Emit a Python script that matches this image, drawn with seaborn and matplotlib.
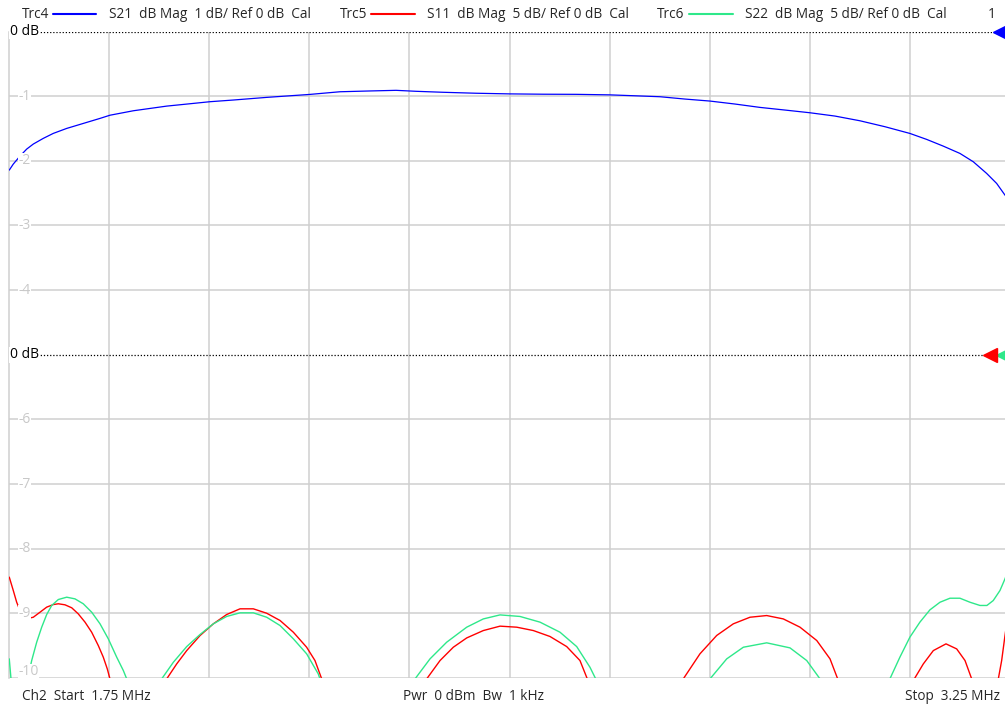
import matplotlib
matplotlib.use("Agg")
import matplotlib.pyplot as plt
import seaborn as sns
import pandas as pd

# --- Data (frequency in MHz, magnitude in dB) ---
START_MHZ = 1.75
STOP_MHZ = 3.25

s21_freq = [1.7504, 1.7564, 1.7665, 1.7765, 1.7864, 1.8014, 1.8164, 1.8365, 1.8613, 1.8864,
            1.9013, 1.9363, 1.9613, 1.9863, 2.0112, 2.0512, 2.0861, 2.1362, 2.2010, 2.2460,
            2.290, 2.330, 2.360, 2.400, 2.450, 2.500, 2.550, 2.600, 2.650, 2.690,
            2.7255, 2.7630, 2.8004, 2.8379, 2.8753, 2.9128, 2.9503, 2.9877, 3.0252, 3.0627,
            3.1001, 3.1251, 3.1500, 3.1750, 3.1950, 3.2150, 3.2300, 3.2425, 3.2500]
s21_db = [-2.144, -2.051, -1.927, -1.819, -1.741, -1.653, -1.576, -1.499, -1.422, -1.344,
          -1.295, -1.226, -1.190, -1.154, -1.128, -1.086, -1.060, -1.019, -0.973, -0.932,
          -0.920, -0.910, -0.925, -0.940, -0.955, -0.965, -0.970, -0.972, -0.980, -0.995,
          -1.009, -1.045, -1.076, -1.122, -1.174, -1.215, -1.257, -1.308, -1.381, -1.473,
          -1.577, -1.669, -1.773, -1.886, -2.015, -2.195, -2.350, -2.531, -2.620]

s11_freq = [1.7504, 1.7564, 1.7615, 1.7665, 1.7740, 1.7804, 1.7864, 1.7965, 1.8065, 1.8164,
            1.8239, 1.8339, 1.8440, 1.8538, 1.8639, 1.8739, 1.8838, 1.8913, 1.8973, 1.9013,
            1.9250, 1.9450, 1.9650,
            1.9863, 2.0013, 2.0163, 2.0362, 2.0562, 2.0762, 2.0962, 2.1161, 2.1361, 2.1561,
            2.1761, 2.1960, 2.2085, 2.2186,
            2.2900,
            2.3759, 2.3959, 2.4158, 2.4359, 2.4608, 2.4858, 2.5108, 2.5357, 2.5607, 2.5857,
            2.6056, 2.6166,
            2.6900,
            2.7604, 2.7854, 2.8105, 2.8354, 2.8604, 2.8854, 2.9103, 2.9353, 2.9604, 2.9803,
            2.9918,
            3.0500,
            3.1066, 3.1201, 3.1351, 3.1541, 3.1701, 3.1826, 3.1926,
            3.2120,
            3.2325, 3.2375, 3.2425, 3.2500]
s11_db = [-17.20, -18.23, -19.14, -19.78, -20.24, -20.37, -20.30, -19.91, -19.52, -19.32,
          -19.26, -19.34, -19.57, -20.04, -20.68, -21.46, -22.49, -23.39, -24.30, -25.07,
          -28.5, -32.0, -28.5,
          -25.07, -23.91, -22.88, -21.72, -20.81, -20.09, -19.65, -19.65, -19.99, -20.55,
          -21.46, -22.62, -23.65, -25.07,
          -33.0,
          -25.07, -23.65, -22.62, -21.90, -21.33, -20.99, -21.07, -21.33, -21.79, -22.57,
          -23.65, -25.07,
          -33.0,
          -25.07, -23.13, -21.71, -20.81, -20.30, -20.17, -20.43, -21.07, -22.10, -23.52,
          -25.07,
          -30.0,
          -25.07, -23.91, -22.88, -22.36, -22.75, -23.65, -25.07,
          -28.0,
          -25.07, -23.65, -21.72, -19.0]

s22_freq = [1.7504, 1.7530, 1.7650, 1.7780, 1.7840, 1.7915, 1.7990, 1.8065, 1.8140, 1.8239,
            1.8365, 1.8489, 1.8613, 1.8739, 1.8864, 1.8988, 1.9114, 1.9213, 1.9264,
            1.9500,
            1.9788, 1.9963, 2.0163, 2.0362, 2.0562, 2.0762, 2.0962, 2.1161, 2.1361, 2.1561,
            2.1761, 2.1960, 2.2134, 2.2160,
            2.2900,
            2.3584, 2.3809, 2.4059, 2.4359, 2.4608, 2.4858, 2.5157, 2.5457, 2.5757, 2.6007,
            2.6206, 2.6292,
            2.7150,
            2.8004, 2.8255, 2.8504, 2.8854, 2.9203, 2.9454, 2.9653,
            3.0200,
            3.0700, 3.0850, 3.1000, 3.1150, 3.1300, 3.1451, 3.1600, 3.1750, 3.1900, 3.2050,
            3.2154, 3.2249, 3.2350, 3.2425, 3.2500]
s22_db = [-23.52, -25.07, -28.0, -25.07, -23.65, -22.23, -21.07, -20.09, -19.39, -18.93,
          -18.75, -18.88, -19.26, -19.91, -20.81, -21.97, -23.39, -24.42, -25.07,
          -32.0,
          -25.07, -23.78, -22.57, -21.64, -20.81, -20.24, -19.96, -19.96, -20.30, -20.94,
          -21.97, -23.13, -24.68, -25.07,
          -33.0,
          -25.07, -23.52, -22.23, -21.07, -20.43, -20.12, -20.24, -20.68, -21.46, -22.57,
          -24.17, -25.07,
          -32.0,
          -25.07, -23.52, -22.62, -22.28, -22.67, -23.65, -25.07,
          -30.0,
          -25.07, -23.39, -21.84, -20.68, -19.73, -19.14, -18.83, -18.83, -19.14, -19.39,
          -19.39, -19.01, -18.23, -17.33, -16.3]

div_labels = ["-1", "-2", "-3", "-4", "-6", "-7", "-8", "-9", "-10"]
div_values = [-1, -2, -3, -4, -6, -7, -8, -9, -10]

C_BLUE = "#0000ff"
C_RED = "#ff0000"
C_GREEN = "#2ee88a"

# Screen grid: 10 divisions. Trc4 uses 1 dB/div with ref at top line,
# Trc5/Trc6 use 5 dB/div with ref at the 5th division.
df21 = pd.DataFrame({"f": s21_freq, "div": [v / 1.0 for v in s21_db]})
df11 = pd.DataFrame({"f": s11_freq, "div": [v / 5.0 - 5 for v in s11_db]})
df22 = pd.DataFrame({"f": s22_freq, "div": [v / 5.0 - 5 for v in s22_db]})

sns.set_style("white")
plt.rcParams["font.family"] = ["Open Sans", "DejaVu Sans"]

W, H = 1005, 709
fig = plt.figure(figsize=(W / 100, H / 100), dpi=100)
ax = fig.add_axes([9 / W, (H - 678) / H, (1010 - 9) / W, (678 - 31.5) / H])

ax.set_xlim(START_MHZ, STOP_MHZ)
ax.set_ylim(-10, 0)

# grid
step = (STOP_MHZ - START_MHZ) / 10
for i in range(1, 10):
    ax.axvline(START_MHZ + i * step, color="#cfcfcf", lw=1.1, zorder=0)
for d in range(-10, 0):
    if d == -5:
        continue
    ax.axhline(d, color="#cfcfcf", lw=1.1, zorder=0)
ax.axhline(0, color="black", lw=0.9, ls=(0, (1, 1.5)), zorder=1)
ax.axhline(-5, color="black", lw=0.9, ls=(0, (1, 1.5)), zorder=1)

for s in ["top", "right", "bottom"]:
    ax.spines[s].set_visible(False)
ax.spines["left"].set_color("#cfcfcf")
ax.spines["left"].set_linewidth(1.1)
ax.set_xticks([])
ax.set_yticks([])

# traces
sns.lineplot(data=df11, x="f", y="div", color=C_RED, lw=1.0, ax=ax, zorder=3)
sns.lineplot(data=df22, x="f", y="div", color=C_GREEN, lw=1.0, ax=ax, zorder=3)
sns.lineplot(data=df21, x="f", y="div", color=C_BLUE, lw=0.9, ax=ax, zorder=4)
ax.set_xlabel("")
ax.set_ylabel("")

# division labels
for lab, v in zip(div_labels, div_values):
    yy = v + 0.1 if v == -10 else v
    ax.text(0.009, yy, lab, transform=ax.get_yaxis_transform(), color="#c8c8c8",
            fontsize=10, va="center", ha="left", zorder=5,
            bbox=dict(facecolor="white", edgecolor="none", pad=0.3))

# reference labels
for v in [0, -5]:
    ax.text(0.0005, v, "0 dB", transform=ax.get_yaxis_transform(), color="black",
            fontsize=10, va="center", ha="left", zorder=6,
            bbox=dict(facecolor="white", edgecolor="none", pad=0.2))

# reference markers
tr = ax.get_yaxis_transform()
ax.plot([0.9905], [0], marker="<", ms=10, color=C_BLUE, transform=tr, clip_on=False, zorder=7)
ax.plot([0.9935], [-5], marker="<", ms=10, color=C_GREEN, transform=tr, clip_on=False, zorder=6)
ax.plot([0.9800], [-5], marker="<", ms=10, color=C_RED, transform=tr, clip_on=False, zorder=7)

# header
fs = 9.8
ty = 1 - 14 / H
def px(x):
    return x / W

fig.text(px(22), ty, "Trc4", fontsize=fs, va="center")
fig.add_artist(plt.Line2D([px(53), px(96)], [ty, ty], color=C_BLUE, lw=1.5))
fig.text(px(109), ty, "S21  dB Mag  1 dB/ Ref 0 dB  Cal", fontsize=fs, va="center")
fig.text(px(340), ty, "Trc5", fontsize=fs, va="center")
fig.add_artist(plt.Line2D([px(371), px(415)], [ty, ty], color=C_RED, lw=1.5))
fig.text(px(427), ty, "S11  dB Mag  5 dB/ Ref 0 dB  Cal", fontsize=fs, va="center")
fig.text(px(657), ty, "Trc6", fontsize=fs, va="center")
fig.add_artist(plt.Line2D([px(689), px(733)], [ty, ty], color=C_GREEN, lw=1.5))
fig.text(px(745), ty, "S22  dB Mag  5 dB/ Ref 0 dB  Cal", fontsize=fs, va="center")
fig.text(px(988), ty, "1", fontsize=fs, va="center")

# footer
by = 1 - 697 / H
fig.text(px(22), by, "Ch2  Start  1.75 MHz", fontsize=fs, va="center")
fig.text(px(403), by, "Pwr  0 dBm  Bw  1 kHz", fontsize=fs, va="center")
fig.text(px(1000), by, "Stop  3.25 MHz", fontsize=fs, va="center", ha="right")

fig.savefig("out.png", dpi=100)
